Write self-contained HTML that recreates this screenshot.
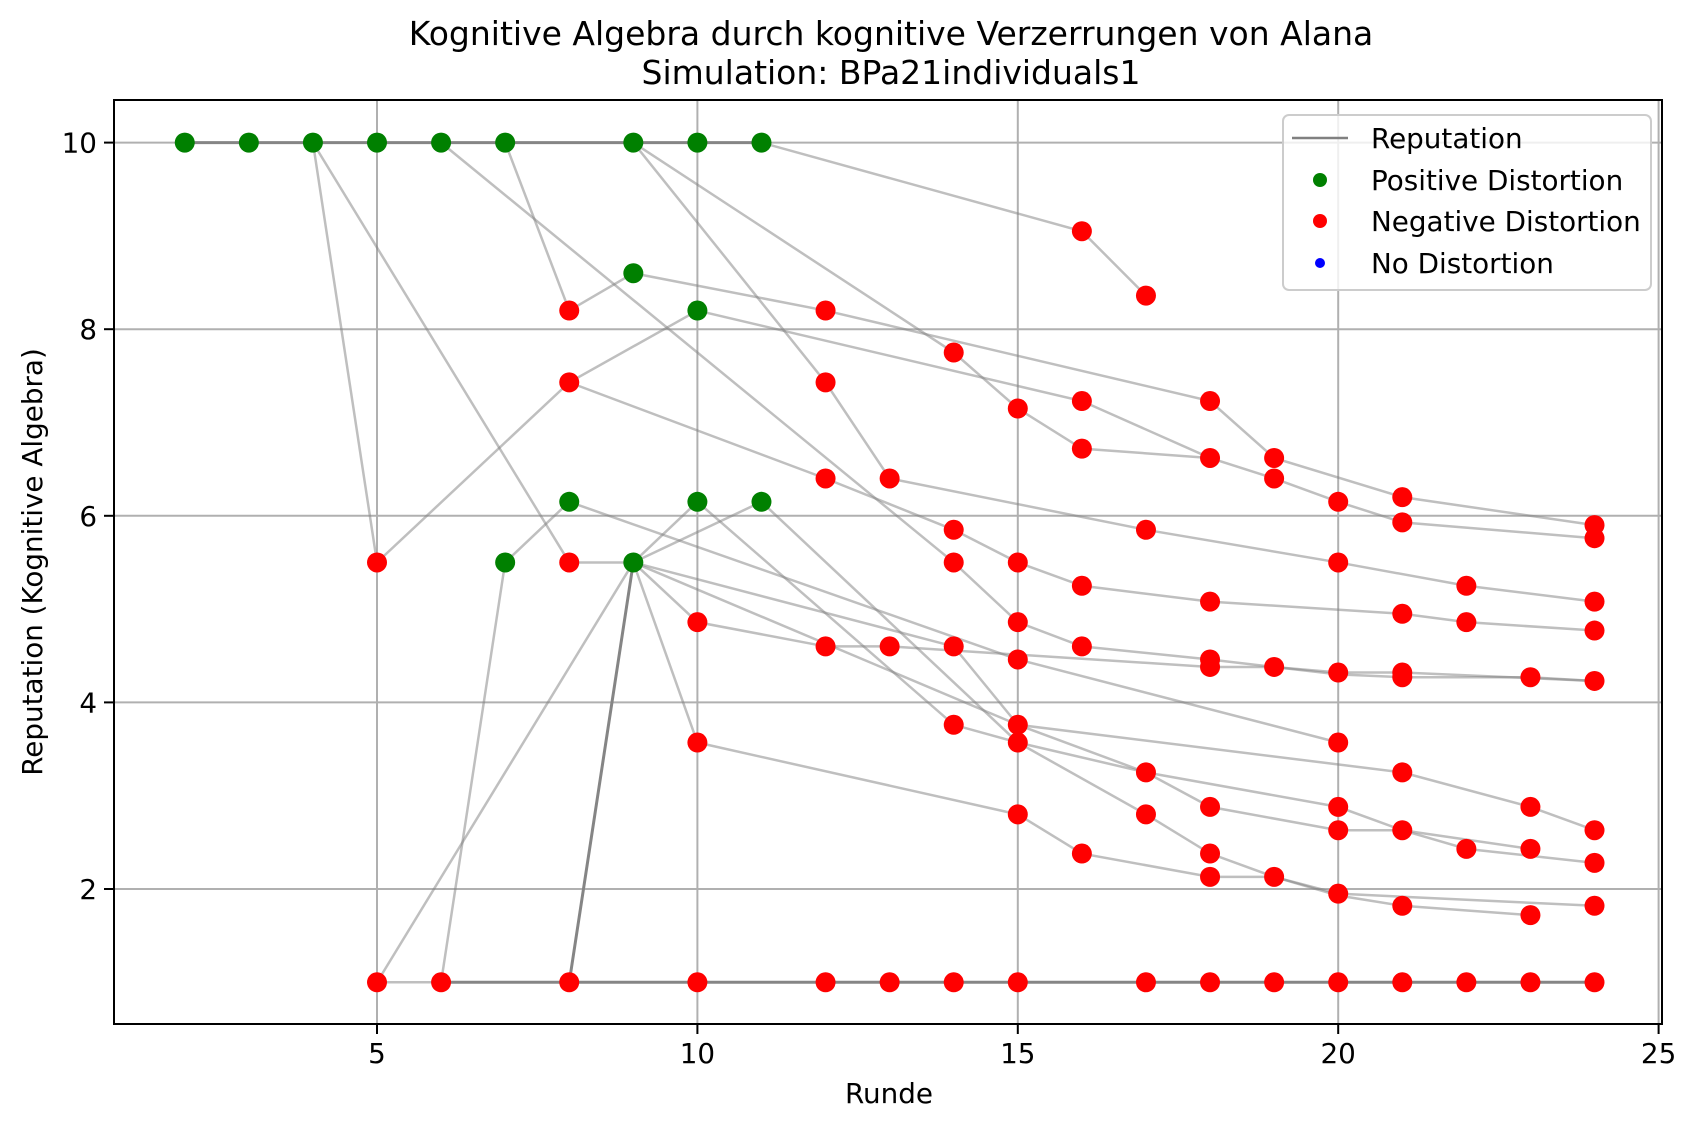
<!DOCTYPE html>
<html><head><meta charset="utf-8">
<style>
html,body{margin:0;padding:0;background:#fff;}
svg{display:block;font-family:"DejaVu Sans","Liberation Sans",sans-serif;}
</style></head>
<body>
<svg id="chart" width="1695" height="1131" viewBox="0 0 1695 1131" xmlns="http://www.w3.org/2000/svg">
<rect x="0" y="0" width="1695" height="1131" fill="#fff"/>
<text x="891" y="45" font-size="33" text-anchor="middle">Kognitive Algebra durch kognitive Verzerrungen von Alana</text>
<text x="891" y="84" font-size="33" text-anchor="middle">Simulation: BPa21individuals1</text>
<g id="grid"></g>
<g id="lines"></g>
<g id="points"></g>
<rect x="114" y="100" width="1548" height="924" fill="none" stroke="#000" stroke-width="2"/>
<g id="ticks"></g>
<text x="889" y="1103" font-size="27.8" text-anchor="middle">Runde</text>
<text transform="translate(42,562) rotate(-90)" font-size="27.8" text-anchor="middle">Reputation (Kognitive Algebra)</text>
<g>
<rect x="1283" y="115" width="368" height="175" rx="6" fill="#fff" fill-opacity="0.8" stroke="#ccc" stroke-width="2"/>
<line x1="1292" y1="138" x2="1348" y2="138" stroke="#808080" stroke-width="2.5"/>
<text x="1371" y="148" font-size="27.8">Reputation</text>
<circle cx="1320" cy="180" r="7" fill="#008000"/>
<text x="1371" y="190" font-size="27.8">Positive Distortion</text>
<circle cx="1320" cy="221" r="7" fill="#ff0000"/>
<text x="1371" y="231" font-size="27.8">Negative Distortion</text>
<circle cx="1320" cy="263" r="5" fill="#0000ff"/>
<text x="1371" y="273" font-size="27.8">No Distortion</text>
</g>
</svg>
<script>
const xTicks = [5, 10, 15, 20, 25];
const yTicks = [2, 4, 6, 8, 10];
// dark (overlapping) reputation lines
const darkX = [
 [2,3,4,5,6,7,9,10,11],
 [6,8,10,12,13,14,15,17,18,19,20,21,22,23,24],
 [8,9]
];
const darkY = [
 [10,10,10,10,10,10,10,10,10],
 [1,1,1,1,1,1,1,1,1,1,1,1,1,1,1],
 [1,5.5]
];
// light trajectories (rounds and reputation values)
const trajX = [
 [5,6],
 [11,16,17],
 [7,8,9,12,18,19,21,24],
 [4,5,8,10,16,18,19,20,21,24],
 [9,12,13,17,20,22,24],
 [8,12,14,15,16,18,21,22,24],
 [9,14,15,16,18],
 [6,14,15,16,18,19,20,21,24],
 [4,8,9],
 [5,9],
 [6,7,8,15,20],
 [9,10],[9,11],
 [9,10,12,13,18,19,20,21,23,24],
 [9,10,15,16,18,19,20,24],
 [9,14,15,21,23,24],
 [9,15,17,18,20,21,22,24],
 [10,14,15,17,20,21,23],
 [11,15,17,18,19,20,21,23]
];
const trajY = [
 [1,1],
 [10,9.05,8.36],
 [10,8.2,8.6,8.2,7.23,6.62,6.2,5.9],
 [10,5.5,7.43,8.2,7.23,6.62,6.4,6.15,5.93,5.76],
 [10,7.43,6.4,5.85,5.5,5.25,5.08],
 [7.43,6.4,5.85,5.5,5.25,5.08,4.95,4.86,4.77],
 [10,7.75,7.15,6.72,6.62],
 [10,5.5,4.86,4.6,4.46,4.38,4.32,4.32,4.23],
 [10,5.5,5.5],
 [1,5.5],
 [1,5.5,6.15,4.46,3.57],
 [5.5,6.15],[5.5,6.15],
 [5.5,4.86,4.6,4.6,4.38,4.38,4.3,4.27,4.27,4.23],
 [5.5,3.57,2.8,2.38,2.13,2.13,1.95,1.82],
 [5.5,4.6,3.76,3.25,2.88,2.63],
 [5.5,3.76,3.25,2.88,2.63,2.63,2.43,2.28],
 [6.15,3.76,3.57,3.25,2.88,2.63,2.43],
 [6.15,3.57,2.8,2.38,2.13,1.93,1.82,1.72]
];
const posX = [2,3,4,5,6,7,9,10,11,9,10,8,10,11,7,9];
const posY = [10,10,10,10,10,10,10,10,10,8.6,8.2,6.15,6.15,6.15,5.5,5.5];
const negX = [8,8,5,8,10,10,12,12,12,13,12,13,14,14,14,14,14,15,15,15,15,15,15,15,16,16,16,16,16,16,17,17,17,17,18,18,18,18,18,18,18,18,19,19,19,19,20,20,20,20,20,20,20,21,21,21,21,21,21,21,21,22,22,22,23,23,23,23,24,24,24,24,24,24,24,24,
 5,6,8,10,12,13,14,15,17,18,19,20,21,22,23,24];
const negY = [8.2,7.43,5.5,5.5,4.86,3.57,8.2,7.43,6.4,6.4,4.6,4.6,7.75,5.85,5.5,4.6,3.76,7.15,5.5,4.86,4.46,3.76,3.57,2.8,9.05,7.23,6.72,5.25,4.6,2.38,8.36,5.85,3.25,2.8,7.23,6.62,5.08,4.46,4.38,2.88,2.38,2.13,6.62,6.4,4.38,2.13,6.15,5.5,4.32,3.57,2.88,2.63,1.95,6.2,5.93,4.95,4.32,4.27,3.25,2.63,1.82,5.25,4.86,2.43,4.27,2.88,2.43,1.72,5.9,5.76,5.08,4.77,4.23,2.63,2.28,1.82,
 1,1,1,1,1,1,1,1,1,1,1,1,1,1,1,1];

const NS = 'http://www.w3.org/2000/svg';
const X = v => 377 + (v - 5) * 64.08;
const Y = v => 982.3 - (v - 1) * 93.3;
function mk(tag, attrs, parent){const e=document.createElementNS(NS,tag);for(const k in attrs)e.setAttribute(k,attrs[k]);parent.appendChild(e);return e;}
const grid=document.getElementById('grid'), ticks=document.getElementById('ticks'), lines=document.getElementById('lines'), pts=document.getElementById('points');
xTicks.forEach(t=>{
  const g=mk('line',{x1:X(t),x2:X(t),y1:100,y2:1024,stroke:'#b0b0b0','stroke-width':2},grid);
  
  
  const tk=mk('line',{x1:X(t),x2:X(t),y1:1024,y2:1034,stroke:'#000','stroke-width':2},ticks);
  
  
  const lb=mk('text',{x:X(t),y:1063,'font-size':27.8,'text-anchor':'middle'},ticks);
  lb.textContent=t;
  
  
});
yTicks.forEach(t=>{
  const g=mk('line',{x1:114,x2:1662,y1:Y(t),y2:Y(t),stroke:'#b0b0b0','stroke-width':2},grid);
  
  
  const tk=mk('line',{x1:104,x2:114,y1:Y(t),y2:Y(t),stroke:'#000','stroke-width':2},ticks);
  
  
  const lb=mk('text',{x:97,y:Y(t)+10,'font-size':27.8,'text-anchor':'end'},ticks);
  lb.textContent=t;
  
  
});
trajX.forEach((xs,i)=>{
  const d=xs.map((x,j)=>(j?'L':'M')+X(x)+' '+Y(trajY[i][j])).join(' ');
  const p=mk('path',{d:d,fill:'none',stroke:'rgba(128,128,128,0.5)','stroke-width':2.5},lines);
  
  
});
darkX.forEach((xs,i)=>{
  const d=xs.map((x,j)=>(j?'L':'M')+X(x)+' '+Y(darkY[i][j])).join(' ');
  const p=mk('path',{d:d,fill:'none',stroke:'#858585','stroke-width':3},lines);
  
  
});
posX.forEach((x,i)=>{
  const c=mk('circle',{cx:X(x),cy:Y(posY[i]),r:10,fill:'#008000'},pts);
  
  
});
negX.forEach((x,i)=>{
  const c=mk('circle',{cx:X(x),cy:Y(negY[i]),r:10,fill:'#ff0000'},pts);
  
  
});
</script>
</body></html>
